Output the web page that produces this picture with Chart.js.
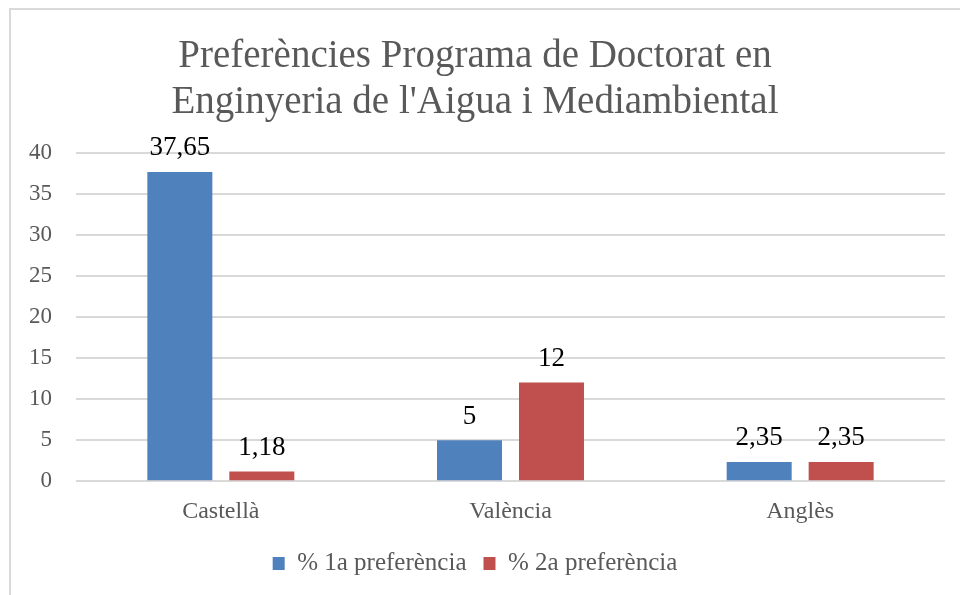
<!DOCTYPE html>
<html>
<head>
<meta charset="utf-8">
<script src="https://cdn.jsdelivr.net/npm/chart.js@4"></script>
<style>
html,body{margin:0;padding:0;background:#fff;overflow:hidden;}
#frame{position:absolute;left:9px;top:8px;width:1000px;height:640px;border-left:2px solid #d9d9d9;border-top:2px solid #d9d9d9;}
#wrap{position:absolute;left:0;top:0;width:960px;height:595px;}
</style>
</head>
<body>
<div id="frame"></div>
<div id="wrap"><canvas id="c" width="960" height="595"></canvas></div>
<script>
const categories = ["Castellà", "València", "Anglès"];
const seriesNames = ["% 1a preferència", "% 2a preferència"];
const series1 = [37.65, 5, 2.35];
const series2 = [1.18, 12, 2.35];
const yTicks = [0, 5, 10, 15, 20, 25, 30, 35, 40];
const titleLines = ["Preferències Programa de Doctorat en", "Enginyeria de l'Aigua i Mediambiental"];

const FONT = "'Liberation Serif', 'DejaVu Serif', serif";

const labelPlugin = {
  id: 'barLabels',
  afterDatasetsDraw(chart) {
    const ctx = chart.ctx;
    ctx.save();
    ctx.font = "27px " + FONT;
    ctx.fillStyle = "#000";
    ctx.textAlign = "center";
    ctx.textBaseline = "bottom";
    chart.data.datasets.forEach((ds, i) => {
      const meta = chart.getDatasetMeta(i);
      meta.data.forEach((bar, j) => {
        const v = ds.data[j];
        const txt = String(v).replace('.', ',');
        ctx.fillText(txt, bar.x, bar.y - 10);
      });
    });
    ctx.restore();
  }
};

new Chart(document.getElementById('c'), {
  type: 'bar',
  data: {
    labels: categories,
    datasets: [
      { label: seriesNames[0], data: series1, backgroundColor: '#4f81bd', borderColor: '#4f81bd', borderWidth: 0 },
      { label: seriesNames[1], data: series2, backgroundColor: '#c0504d', borderColor: '#c0504d', borderWidth: 0 }
    ]
  },
  options: {
    responsive: false,
    animation: false,
    devicePixelRatio: 1,
    layout: { padding: { left: 5, right: 15, top: 10, bottom: 9 } },
    datasets: { bar: { categoryPercentage: 0.566, barPercentage: 0.793 } },
    plugins: {
      title: {
        display: true,
        text: titleLines,
        color: '#595959',
        font: { family: FONT, size: 39, weight: 'normal' },
        lineHeight: 1.1,
        padding: { top: 23, bottom: 26 }
      },
      legend: {
        position: 'bottom',
        labels: {
          color: '#595959',
          font: { family: FONT, size: 25 },
          boxWidth: 12,
          boxHeight: 13,
          padding: 17
        }
      },
      tooltip: { enabled: false }
    },
    scales: {
      x: {
        grid: { display: false },
        border: { display: false },
        ticks: { color: '#595959', font: { family: FONT, size: 24 }, padding: 8 }
      },
      y: {
        min: 0, max: 40,
        afterBuildTicks(axis) { axis.ticks = yTicks.map(v => ({ value: v })); },
        grid: { color: '#d9d9d9', lineWidth: 2, drawTicks: false },
        border: { display: false },
        ticks: { color: '#595959', font: { family: FONT, size: 23 }, padding: 24 }
      }
    }
  },
  plugins: [labelPlugin]
});
</script>
</body>
</html>
